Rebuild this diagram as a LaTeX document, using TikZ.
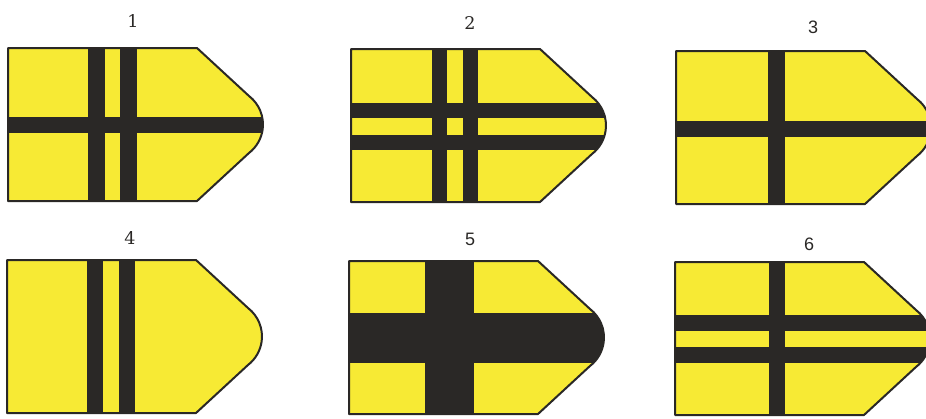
\documentclass[tikz,border=0pt]{standalone}
\usepackage{fontspec}
\newfontfamily\sansf{Liberation Sans}
\newfontfamily\seriff{DejaVu Serif}
\definecolor{flagyellow}{RGB}{247,234,52}
\definecolor{flagdark}{RGB}{42,40,38}
\tikzset{
  flagoutline/.style={draw=flagdark, line width=2pt, line join=round},
  barfill/.style={fill=flagdark},
  numlabel/.style={font=\seriff\fontsize{17.5}{20}\selectfont, text=flagdark, inner sep=0pt},
  sanslabel/.style={numlabel, font=\sansf\fontsize{18}{20}\selectfont},
}
\newcommand\FlagPath[1]{\path[#1] (0,0) -- (189,0) -- (241,48) arc[start angle=52.3, end angle=-52.3, radius=36pt] -- (189,153) -- (0,153) -- cycle;}
\newcommand\FlagBack{\fill[flagyellow] (-5,-5) rectangle (300,160);}
\begin{document}
\begin{tikzpicture}[x=1pt,y=-1pt]
\useasboundingbox (0,0) rectangle (926,418);
\fill[white] (0,0) rectangle (926,418);
% Flag 1
\begin{scope}[shift={(8,48)}]
  \begin{scope}
    \FlagPath{clip}
    \FlagBack
    \fill[barfill] (80,-5) rectangle (97,160);
    \fill[barfill] (112,-5) rectangle (129,160);
    \fill[barfill] (-5,68.5) rectangle (300,84.5);
  \end{scope}
  \FlagPath{flagoutline}
\end{scope}
\node[numlabel] (l1) at (133,21) {1};
% Flag 2
\begin{scope}[shift={(351,49)}]
  \begin{scope}
    \FlagPath{clip}
    \FlagBack
    \fill[barfill] (81,-5) rectangle (96,160);
    \fill[barfill] (112,-5) rectangle (127,160);
    \fill[barfill] (-5,54) rectangle (300,69);
    \fill[barfill] (-5,86) rectangle (300,101);
  \end{scope}
  \FlagPath{flagoutline}
\end{scope}
\node[numlabel] (l2) at (470,23) {2};
% Flag 3
\begin{scope}[shift={(676,51)}]
  \begin{scope}
    \FlagPath{clip}
    \FlagBack
    \fill[barfill] (92,-5) rectangle (109,160);
    \fill[barfill] (-5,69.5) rectangle (300,85.5);
  \end{scope}
  \FlagPath{flagoutline}
\end{scope}
\node[sanslabel] (l3) at (813,27) {3};
% Flag 4
\begin{scope}[shift={(7,260)}]
  \begin{scope}
    \FlagPath{clip}
    \FlagBack
    \fill[barfill] (80,-5) rectangle (96,160);
    \fill[barfill] (112,-5) rectangle (128,160);
  \end{scope}
  \FlagPath{flagoutline}
\end{scope}
\node[numlabel] (l4) at (130,238) {4};
% Flag 5
\begin{scope}[shift={(349,261)}]
  \begin{scope}
    \FlagPath{clip}
    \FlagBack
    \fill[barfill] (76,-5) rectangle (125,160);
    \fill[barfill] (-5,51.5) rectangle (300,101.5);
  \end{scope}
  \FlagPath{flagoutline}
\end{scope}
\node[sanslabel] (l5) at (470,239) {5};
% Flag 6
\begin{scope}[shift={(675,262)}]
  \begin{scope}
    \FlagPath{clip}
    \FlagBack
    \fill[barfill] (94,-5) rectangle (110,160);
    \fill[barfill] (-5,53) rectangle (300,69);
    \fill[barfill] (-5,85) rectangle (300,101);
  \end{scope}
  \FlagPath{flagoutline}
\end{scope}
\node[sanslabel] (l6) at (809,244) {6};
\end{tikzpicture}
\end{document}
